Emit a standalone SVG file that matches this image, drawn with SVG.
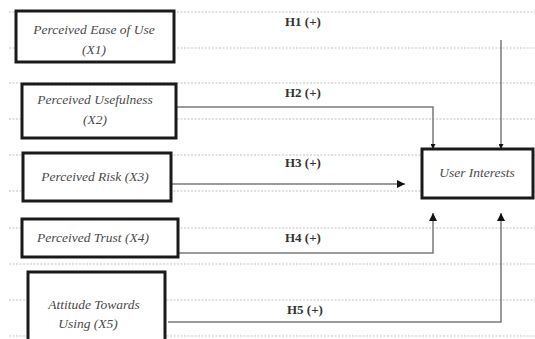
<svg xmlns="http://www.w3.org/2000/svg" width="535" height="339" viewBox="0 0 535 339">
<style>
.grid{stroke:#c4c4c4;stroke-width:1.2;stroke-dasharray:2 1.5;fill:none}
.box{fill:#fff;stroke:#1a1a1a;stroke-width:3}
.t{font-family:"Liberation Serif",serif;font-style:italic;font-size:13.5px;fill:#4a4a4a;text-anchor:middle}
.h{font-family:"Liberation Serif",serif;font-weight:bold;font-size:13px;fill:#333}
.c{stroke:#7a7a7a;stroke-width:1.5;fill:none}
</style>
<defs>
<marker id="arr" markerWidth="8" markerHeight="8" refX="8" refY="4" orient="auto" markerUnits="userSpaceOnUse">
<path d="M0,0 L8,4 L0,8 Z" fill="#111"/>
</marker>
<marker id="dot" markerWidth="5" markerHeight="5" refX="5" refY="2.5" orient="auto" markerUnits="userSpaceOnUse">
<path d="M0,0 L5,2.5 L0,5 Z" fill="#111"/>
</marker>
</defs>
<g id="grid">
<line class="grid" x1="9" y1="12" x2="535" y2="12"/>
<line class="grid" x1="9" y1="48" x2="535" y2="48"/>
<line class="grid" x1="9" y1="83" x2="535" y2="83"/>
<line class="grid" x1="9" y1="119" x2="535" y2="119"/>
<line class="grid" x1="9" y1="155" x2="535" y2="155"/>
<line class="grid" x1="9" y1="191" x2="535" y2="191"/>
<line class="grid" x1="9" y1="228" x2="535" y2="228"/>
<line class="grid" x1="9" y1="264" x2="535" y2="264"/>
<line class="grid" x1="9" y1="300" x2="535" y2="300"/>
<line class="grid" x1="9" y1="336" x2="535" y2="336"/>
</g>
<g id="connectors">
<path class="c" d="M501,40 V149" marker-end="url(#dot)"/>
<path class="c" d="M167,107 H433 V149" marker-end="url(#dot)"/>
<path class="c" d="M167,184 H405" marker-end="url(#arr)"/>
<path class="c" d="M167,253 H433 V213" marker-end="url(#arr)"/>
<path class="c" d="M168,322 H501 V213" marker-end="url(#arr)"/>
<text class="h" x="285" y="26">H1 (+)</text>
<text class="h" x="285" y="97">H2 (+)</text>
<text class="h" x="285" y="167">H3 (+)</text>
<text class="h" x="285" y="242">H4 (+)</text>
<text class="h" x="287" y="314">H5 (+)</text>
</g>
<g id="x1">
<rect class="box" x="16" y="11" width="158" height="51"/>
<text class="t" x="94" y="34">Perceived Ease of Use</text>
<text class="t" x="94" y="54">(X1)</text>
</g>
<g id="x2">
<rect class="box" x="22" y="84" width="154" height="54"/>
<text class="t" x="95" y="104">Perceived Usefulness</text>
<text class="t" x="95" y="124">(X2)</text>
</g>
<g id="x3">
<rect class="box" x="23" y="153" width="148" height="48"/>
<text class="t" x="95" y="181">Perceived Risk (X3)</text>
</g>
<g id="x4">
<rect class="box" x="22" y="219" width="156" height="38"/>
<text class="t" x="93" y="242">Perceived Trust (X4)</text>
</g>
<g id="x5">
<rect class="box" x="28" y="272" width="137" height="72"/>
<text class="t" x="94" y="309">Attitude Towards</text>
<text class="t" x="88" y="328">Using (X5)</text>
</g>
<g id="ui">
<rect class="box" x="422" y="149" width="111" height="49"/>
<text class="t" x="477" y="177">User Interests</text>
</g>
</svg>
